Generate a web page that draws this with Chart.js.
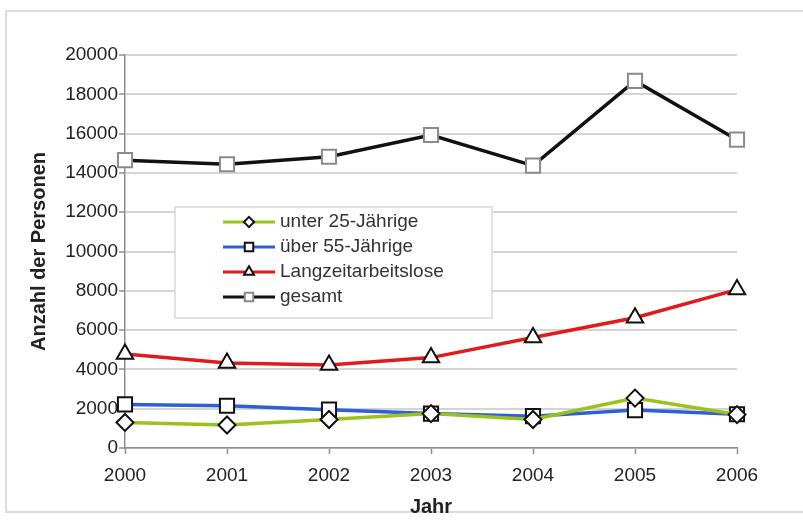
<!DOCTYPE html>
<html lang="de">
<head>
<meta charset="utf-8">
<title>Anzahl der Personen</title>
<script src="https://cdn.jsdelivr.net/npm/chart.js@4/dist/chart.umd.min.js"></script>
<style>
  html, body { margin: 0; padding: 0; background: #fff; }
  .wrap { position: relative; width: 803px; height: 521px; overflow: hidden; }
  .frame {
    position: absolute; left: 5px; top: 10px; width: 820px; height: 503px;
    border: 2px solid #dcdcdc; box-sizing: border-box;
  }
  canvas { position: absolute; left: 0; top: 0; }
</style>
</head>
<body>
<div class="wrap">
  <div class="frame"></div>
  <canvas id="chart" width="803" height="521"></canvas>
</div>
<script>
// ================= DATA =================
const years = ["2000", "2001", "2002", "2003", "2004", "2005", "2006"];
const unter25 = [1300, 1170, 1450, 1750, 1450, 2540, 1700];
const ueber55 = [2220, 2150, 1950, 1750, 1620, 1930, 1720];
const langzeit = [4780, 4330, 4230, 4600, 5620, 6630, 8060];
const gesamt = [14650, 14440, 14820, 15930, 14370, 18680, 15690];
const yTicks = [0, 2000, 4000, 6000, 8000, 10000, 12000, 14000, 16000, 18000, 20000];

const FONT = "'Liberation Sans', Arial, sans-serif";

// small marker shapes for the legend rows
function markerPath(ctx, style, r, x, y) {
  if (style === "rect") {
    const s = r / Math.SQRT2;
    ctx.rect(x - s, y - s, 2 * s, 2 * s);
  } else if (style === "rectRot") {
    ctx.moveTo(x, y - r); ctx.lineTo(x + r, y); ctx.lineTo(x, y + r); ctx.lineTo(x - r, y); ctx.closePath();
  } else {
    const half = r * Math.sqrt(3) / 2;
    ctx.moveTo(x, y - r); ctx.lineTo(x + half, y + r / 2); ctx.lineTo(x - half, y + r / 2); ctx.closePath();
  }
}

// ================= LEGEND BOX (drawn inside the plot) =================
const boxLegend = {
  id: "boxLegend",
  afterDraw(chart, args, opts) {
    const ctx = chart.ctx;
    ctx.save();
    ctx.fillStyle = "#fff";
    ctx.fillRect(opts.x, opts.y, opts.w, opts.h);
    ctx.strokeStyle = "#d8d8d8";
    ctx.lineWidth = 1.5;
    ctx.strokeRect(opts.x, opts.y, opts.w, opts.h);

    chart.data.datasets.forEach((ds, i) => {
      const y = opts.firstRow + i * opts.rowGap;
      const cx = opts.lineX + opts.lineW / 2;

      ctx.strokeStyle = ds.borderColor;
      ctx.lineWidth = 3;
      ctx.beginPath();
      ctx.moveTo(opts.lineX, y);
      ctx.lineTo(opts.lineX + opts.lineW, y);
      ctx.stroke();

      ctx.fillStyle = "#fff";
      ctx.strokeStyle = ds.pointBorderColor;
      ctx.lineWidth = 2;
      ctx.beginPath();
      markerPath(ctx, ds.pointStyle, ds.pointRadius * 0.6, cx, y);
      ctx.fill();
      ctx.stroke();

      ctx.fillStyle = "#333";
      ctx.font = "19px " + FONT;
      ctx.textBaseline = "middle";
      ctx.textAlign = "left";
      ctx.fillText(ds.label, opts.textX, y);
    });
    ctx.restore();
  }
};

function series(label, data, color, style, radius, markerBorder) {
  return {
    label: label,
    data: data,
    borderColor: color,
    backgroundColor: color,
    borderWidth: 3.5,
    tension: 0,
    pointStyle: style,
    pointRadius: radius,
    pointHoverRadius: radius,
    pointBackgroundColor: "#fff",
    pointBorderColor: markerBorder,
    pointBorderWidth: 2
  };
}

// ================= CHART =================
const ctx = document.getElementById("chart").getContext("2d");

new Chart(ctx, {
  type: "line",
  data: {
    labels: years,
    datasets: [
      series("unter 25-Jährige", unter25, "#99c31c", "rectRot", 8.5, "#111"),
      series("über 55-Jährige", ueber55, "#2f5fd6", "rect", 10, "#111"),
      series("Langzeitarbeitslose", langzeit, "#e01b1b", "triangle", 9.5, "#111"),
      series("gesamt", gesamt, "#111", "rect", 10, "#8a8a8a")
    ]
  },
  options: {
    responsive: false,
    animation: false,
    layout: { padding: { left: 0, top: 55, right: 66, bottom: 0 } },
    plugins: {
      legend: { display: false },
      tooltip: { enabled: false },
      boxLegend: {
        x: 175, y: 207, w: 317, h: 111,
        lineX: 223, lineW: 52, textX: 280,
        firstRow: 222, rowGap: 25
      }
    },
    scales: {
      x: {
        offset: false,
        afterFit: s => { s.height = 73; },
        border: { color: "#8c8c8c", width: 1.5 },
        grid: { drawOnChartArea: false, drawTicks: true, tickLength: 6, tickColor: "#8c8c8c", tickWidth: 1.5 },
        ticks: { color: "#222", font: { family: FONT, size: 19 }, padding: 10, maxRotation: 0 },
        title: { display: true, text: "Jahr", color: "#222", font: { family: FONT, size: 20, weight: "bold" }, padding: { bottom: 2 } }
      },
      y: {
        min: 0,
        max: 20000,
        afterFit: s => { s.width = 125; },
        afterBuildTicks: s => { s.ticks = yTicks.map(v => ({ value: v })); },
        border: { color: "#8c8c8c", width: 1.5 },
        grid: { color: "#d4d4d4", lineWidth: 2, tickLength: 6, tickColor: "#8c8c8c", tickWidth: 1.5 },
        ticks: { color: "#222", font: { family: FONT, size: 19 }, padding: 1, callback: v => String(v) },
        title: { display: true, text: "Anzahl der Personen", color: "#222", font: { family: FONT, size: 20, weight: "bold" }, padding: { top: 27 } }
      }
    }
  },
  plugins: [boxLegend]
});
</script>
</body>
</html>
